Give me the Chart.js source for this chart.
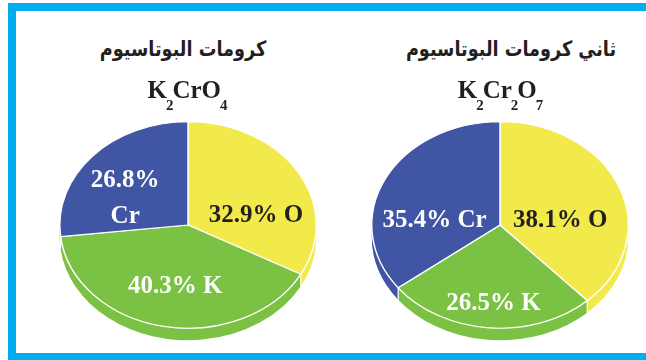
<!DOCTYPE html>
<html>
<head>
<meta charset="utf-8">
<script src="https://cdn.jsdelivr.net/npm/chart.js@4.4.1/dist/chart.umd.min.js"></script>
<style>
  html, body { margin: 0; padding: 0; background: #fff; }
  body { width: 646px; height: 360px; position: relative; overflow: hidden; }
  .frame {
    position: absolute; left: 8px; top: 3px; width: 700px; height: 358px;
    box-sizing: border-box; border: 8px solid #00aeef;
  }
  .title {
    position: absolute; width: 260px; text-align: center; direction: rtl;
    font-family: "DejaVu Sans", sans-serif; font-weight: bold; font-size: 21px;
    line-height: 28px; color: #231f20; top: 35px; z-index: 2;
    transform: scaleX(0.84);
  }
  .formula {
    position: absolute; width: 200px; text-align: center;
    font-family: "Liberation Serif", serif; font-weight: bold; font-size: 25px;
    line-height: 25px; color: #231f20; top: 77px; z-index: 2;
  }
  .formula span { font-size: 15px; position: relative; top: 12px; margin: 0 -1px; }
  canvas { position: absolute; top: 85px; z-index: 1; }
</style>
</head>
<body>
<div class="frame"></div>

<div class="title" style="left:53px">كرومات البوتاسيوم</div>
<div class="formula" style="left:87px">K<span>2</span>CrO<span>4</span></div>

<div class="title" style="left:381px">ثاني كرومات البوتاسيوم</div>
<div class="formula" style="left:400px">K<span>2</span>Cr<span>2</span>O<span>7</span></div>

<canvas id="chromateChart" width="280" height="280" style="left:48px"></canvas>
<canvas id="dichromateChart" width="280" height="280" style="left:360px"></canvas>

<script>
// mass composition, clockwise from 12 o'clock
const elements = ["O", "K", "Cr"];
const chromateValues = [32.9, 40.3, 26.8];     // K2CrO4
const dichromateValues = [38.1, 26.5, 35.4];   // K2Cr2O7

const sliceColors = ["#f2ea4b", "#7bc143", "#4155a5"];
const labelColors = ["#231f20", "#ffffff", "#ffffff"];

// label anchors as fractions of the pie radii (x, y of first baseline)
const chromateLabelPos = [[0.53, -0.03], [-0.10, 0.66], [-0.49, -0.37]];
const chromateLabelBreak = [false, false, true];
const dichromateLabelPos = [[0.47, 0.02], [-0.05, 0.82], [-0.51, 0.02]];
const dichromateLabelBreak = [false, false, false];

// draws the pie squashed into an ellipse with a visible front wall
const tiltPlugin = {
  id: "tilt",
  beforeDatasetsDraw(chart, args, opts) {
    const ctx = chart.ctx;
    const arcs = chart.getDatasetMeta(0).data;
    const { x, y, outerRadius: r } = arcs[0];
    const ry = r * opts.squash;
    const d = opts.depth;

    ctx.save();
    // front wall, only the part between 3 and 9 o'clock is visible
    arcs.forEach((arc) => {
      const a1 = Math.max(arc.startAngle, 0);
      const a2 = Math.min(arc.endAngle, Math.PI);
      if (a2 <= a1) return;
      ctx.beginPath();
      ctx.ellipse(x, y, r, ry, 0, a1, a2);
      ctx.ellipse(x, y + d, r, ry, 0, a2, a1, true);
      ctx.closePath();
      ctx.fillStyle = arc.options.backgroundColor;
      ctx.fill();
    });
    ctx.strokeStyle = "#ffffff";
    ctx.lineWidth = 1.2;
    arcs.forEach((arc) => {
      const a = arc.startAngle;
      if (a <= 0 || a >= Math.PI) return;
      const px = x + r * Math.cos(a);
      const py = y + ry * Math.sin(a);
      ctx.beginPath();
      ctx.moveTo(px, py);
      ctx.lineTo(px, py + d);
      ctx.stroke();
    });

    // top face
    ctx.translate(x, y);
    ctx.scale(1, opts.squash);
    ctx.translate(-x, -y);
  },
  afterDatasetsDraw(chart, args, opts) {
    const ctx = chart.ctx;
    ctx.restore();

    const arc = chart.getDatasetMeta(0).data[0];
    const r = arc.outerRadius;
    const ry = r * opts.squash;
    const values = chart.data.datasets[0].data;
    const names = chart.data.labels;

    ctx.save();
    ctx.font = "bold 25px 'Liberation Serif', serif";
    ctx.textAlign = "center";
    ctx.textBaseline = "alphabetic";
    values.forEach((v, i) => {
      const [fx, fy] = opts.positions[i];
      const lx = arc.x + fx * r;
      const ly = arc.y + fy * ry;
      ctx.fillStyle = opts.colors[i];
      if (opts.breaks[i]) {
        ctx.fillText(v.toFixed(1) + "%", lx, ly);
        ctx.fillText(names[i], lx, ly + 36);
      } else {
        ctx.fillText(v.toFixed(1) + "% " + names[i], lx, ly);
      }
    });
    ctx.restore();
  }
};

function makePie(id, values, positions, breaks) {
  const ctx = document.getElementById(id).getContext("2d");
  return new Chart(ctx, {
    type: "pie",
    data: {
      labels: elements,
      datasets: [
        {
          data: values,
          backgroundColor: sliceColors,
          borderColor: "#ffffff",
          borderWidth: 1.5,
        },
      ],
    },
    options: {
      responsive: false,
      animation: false,
      events: [],
      layout: { padding: 11 },
      plugins: {
        legend: { display: false },
        tooltip: { enabled: false },
        tilt: {
          squash: 0.805,
          depth: 12,
          positions: positions,
          breaks: breaks,
          colors: labelColors,
        },
      },
    },
    plugins: [tiltPlugin],
  });
}

makePie("chromateChart", chromateValues, chromateLabelPos, chromateLabelBreak);
makePie("dichromateChart", dichromateValues, dichromateLabelPos, dichromateLabelBreak);
</script>
</body>
</html>
